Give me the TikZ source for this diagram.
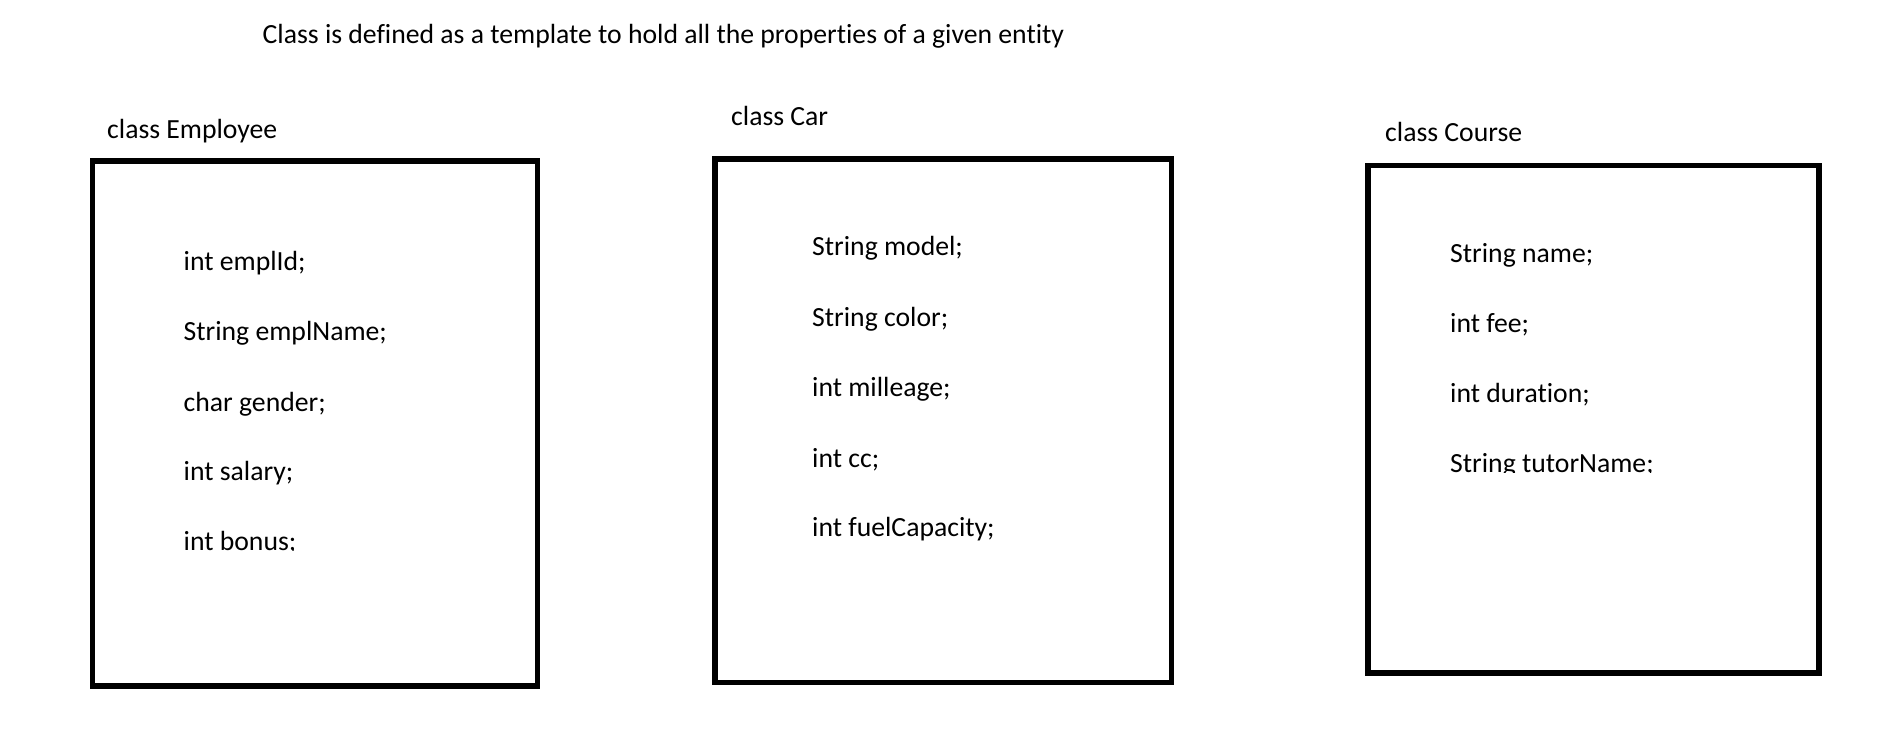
\documentclass[tikz,border=0pt]{standalone}
\usepackage{fontspec}
\setmainfont{Carlito}[Ligatures=NoCommon]
\usetikzlibrary{positioning}

\begin{document}
\begin{tikzpicture}[
  x=1pt, y=-1pt,
  textfont/.style={font=\fontsize{27.7}{33}\selectfont},
  classbox/.style={draw, line width=5.5pt, inner sep=0pt},
  classlabel/.style={textfont, anchor=base west, inner sep=0pt},
  member/.style={textfont, anchor=base west, inner sep=0pt},
]

%%% Canvas, pixel units (y runs down)
\useasboundingbox (0,0) rectangle (1878,732);

%%% Title
\node[classlabel] (title) at (262.5,43)
  {Class is defined as a template to hold all the properties of a given entity};

%%% class Employee
\node[classlabel] (empLabel) at (107,138) {class Employee};
\node[classbox, minimum width=445pt, minimum height=525pt] (empBox)
  at (315,423.5) {};
\node[member] (empId)     at (183.5,270) {int emplId;};
\node[member] (empName)   at (183.5,340) {String emplName;};
\node[member] (empGender) at (183.5,411) {char gender;};
\node[member] (empSalary) at (183.5,480) {int salary;};
\begin{scope}
  \clip (100,500) rectangle (530,550.5);
  \node[member] (empBonus) at (183.5,550) {int bonus;};
\end{scope}

%%% class Car
\node[classlabel] (carLabel) at (731,125) {class Car};
\node[classbox, minimum width=456.7pt, minimum height=523.7pt] (carBox)
  at (943.2,420.6) {};
\node[member] (carModel) at (812,255.5) {String model;};
\node[member] (carColor) at (812,326) {String color;};
\node[member] (carMile)  at (812,396) {int milleage;};
\node[member] (carCc)    at (812,467) {int cc;};
\node[member] (carFuel)  at (812,536) {int fuelCapacity;};

%%% class Course
\node[classlabel] (crsLabel) at (1385,141.5) {class Course};
\node[classbox, minimum width=451pt, minimum height=507.5pt] (crsBox)
  at (1593.5,419.2) {};
\node[member] (crsName)  at (1450,262) {String name;};
\node[member] (crsFee)   at (1450,332) {int fee;};
\node[member] (crsDur)   at (1450,402) {int duration;};
\begin{scope}
  \clip (1375,420) rectangle (1810,472);
  \node[member] (crsTutor) at (1450,472) {String tutorName;};
\end{scope}

\end{tikzpicture}
\end{document}
